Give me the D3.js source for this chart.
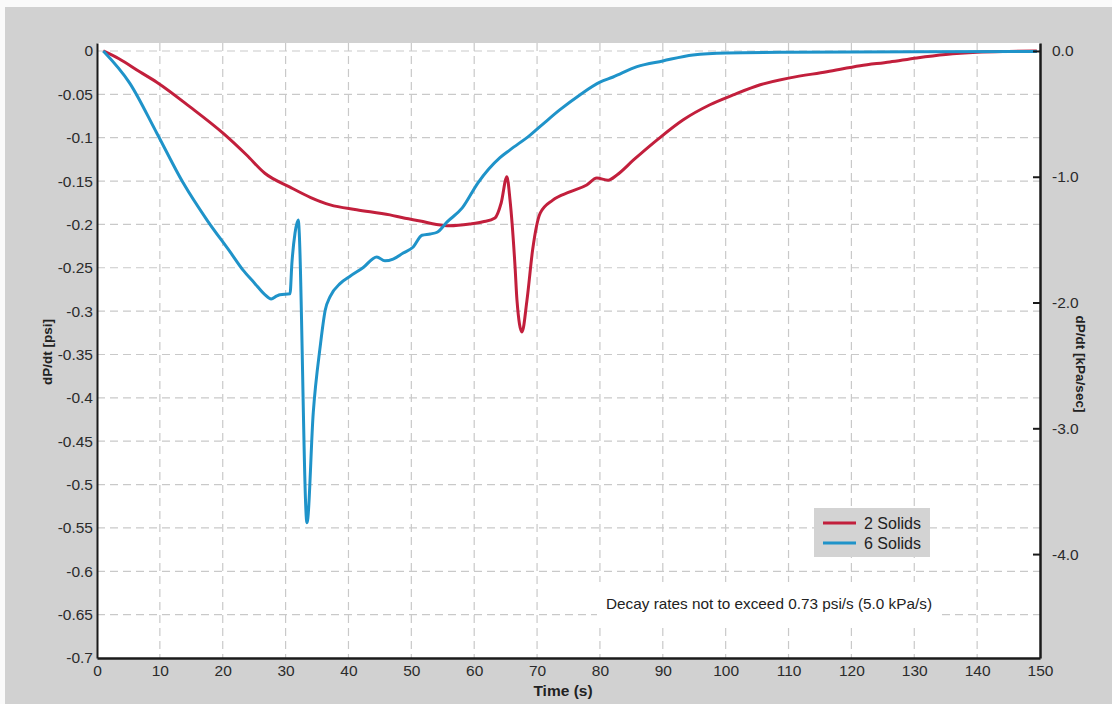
<!DOCTYPE html>
<html>
<head>
<meta charset="utf-8">
<script src="https://cdn.jsdelivr.net/npm/d3@7"></script>
<style>
  html, body { margin: 0; padding: 0; background: #fafafa; }
  svg { display: block; font-family: "Liberation Sans", Arial, sans-serif; }
</style>
</head>
<body>
<svg id="chart" width="1112" height="704"></svg>
<script>
"use strict";

// Time axis ticks (s) and left axis ticks (psi)
const timeTicks = [0, 10, 20, 30, 40, 50, 60, 70, 80, 90, 100, 110, 120, 130, 140, 150];
const psiTicks = [0, -0.05, -0.1, -0.15, -0.2, -0.25, -0.3, -0.35, -0.4, -0.45, -0.5, -0.55, -0.6, -0.65, -0.7];
const psiLabels = ["0", "-0.05", "-0.1", "-0.15", "-0.2", "-0.25", "-0.3", "-0.35", "-0.4", "-0.45", "-0.5", "-0.55", "-0.6", "-0.65", "-0.7"];
const kpaTicks = [0, -1, -2, -3, -4];
const kpaLabels = ["0.0", "-1.0", "-2.0", "-3.0", "-4.0"];

// 2 Solids: time (s) and dP/dt (psi)
const solids2Time = [1, 3.5, 6.8, 9.5, 14.8, 20, 23.8, 26.7, 30.7, 34, 37.1, 41.3, 46.6, 49, 51.4, 54, 56.1, 59.3, 61.4, 63.3, 64.3, 65.2, 65.7, 66.5, 66.8, 67.6, 68.4, 69.3, 70.5, 72.5, 75.2, 77.9, 79.5, 81.3, 82.7, 85.3, 89.1, 93.2, 97.5, 101.2, 105.5, 110.2, 116.1, 121.4, 126.1, 130.4, 135, 140, 145, 149.5];
const solids2Rate = [0, -0.009, -0.024, -0.036, -0.0645, -0.0945, -0.12, -0.141, -0.157, -0.169, -0.1775, -0.183, -0.189, -0.193, -0.196, -0.2, -0.2015, -0.1995, -0.197, -0.1925, -0.175, -0.145, -0.172, -0.249, -0.287, -0.324, -0.287, -0.229, -0.187, -0.172, -0.1625, -0.1545, -0.1465, -0.149, -0.143, -0.126, -0.1025, -0.0796, -0.062, -0.0507, -0.039, -0.031, -0.024, -0.017, -0.0127, -0.008, -0.004, -0.0015, -0.0005, 0];

// 6 Solids: time (s) and dP/dt (psi)
const solids6Time = [1, 5.2, 9.5, 13.7, 17.5, 21.2, 23.2, 25.1, 26.7, 27.7, 28.6, 29.1, 30.7, 31, 31.5, 32, 33.4, 34.4, 35.5, 36.3, 37.1, 38.7, 40.2, 42.3, 44.5, 45.8, 47.1, 48.7, 50.3, 51.7, 53, 54.1, 55.7, 58.1, 60.6, 64.1, 65.7, 68.9, 71.3, 73.6, 76.8, 80, 82.1, 85.9, 90, 94.8, 100.2, 110, 130, 149.5];
const solids6Rate = [0, -0.037, -0.0945, -0.152, -0.195, -0.232, -0.2525, -0.268, -0.281, -0.286, -0.2825, -0.281, -0.28, -0.245, -0.21, -0.195, -0.544, -0.417, -0.341, -0.299, -0.283, -0.268, -0.26, -0.25, -0.2375, -0.242, -0.24, -0.233, -0.226, -0.2125, -0.211, -0.209, -0.197, -0.181, -0.152, -0.123, -0.114, -0.097, -0.082, -0.068, -0.0507, -0.036, -0.03, -0.018, -0.0115, -0.0046, -0.0023, -0.0015, -0.001, -0.0005];

const seriesNames = ["2 Solids", "6 Solids"];
const seriesColors = ["#c21f3c", "#1f93c9"];

const PSI_TO_KPA = 6.894757;

const svg = d3.select("#chart");
const plot = { left: 97, right: 1040, top: 43, bottom: 658 };

const x = d3.scaleLinear().domain([0, 150]).range([plot.left, plot.right]);
const y = d3.scaleLinear().domain([-0.7, 0.0092]).range([plot.bottom, plot.top]);
const yKpa = d3.scaleLinear().domain(y.domain().map(v => v * PSI_TO_KPA)).range(y.range());

// grey page background and white plot area
svg.append("rect").attr("x", 5).attr("y", 7).attr("width", 1107).attr("height", 697).attr("fill", "#d1d1d1");
svg.append("rect").attr("x", plot.left).attr("y", plot.top)
  .attr("width", plot.right - plot.left).attr("height", plot.bottom - plot.top).attr("fill", "#ffffff");

// dashed grid
const grid = svg.append("g").attr("stroke", "#c9c9c9").attr("stroke-width", 1.2).attr("stroke-dasharray", "8,5");
grid.selectAll(".gx").data(timeTicks.filter(t => t > 0 && t < 150)).join("line")
  .attr("x1", d => x(d)).attr("x2", d => x(d)).attr("y1", plot.top).attr("y2", plot.bottom);
grid.selectAll(".gy").data(psiTicks.filter(v => v > -0.7)).join("line")
  .attr("y1", d => y(d)).attr("y2", d => y(d)).attr("x1", plot.left).attr("x2", plot.right);

// annotation box sits over the grid
svg.append("rect").attr("x", 597).attr("y", 582).attr("width", 343).attr("height", 43).attr("fill", "#ffffff");
svg.append("text").attr("x", 606).attr("y", 609).attr("font-size", 15).attr("fill", "#222")
  .attr("textLength", 326).attr("lengthAdjust", "spacingAndGlyphs")
  .text("Decay rates not to exceed 0.73 psi/s (5.0 kPa/s)");

// series lines
const line = d3.line().x(d => x(d[0])).y(d => y(d[1])).curve(d3.curveMonotoneX);
const series = [
  d3.zip(solids2Time, solids2Rate),
  d3.zip(solids6Time, solids6Rate)
];
svg.append("g").selectAll("path").data(series).join("path")
  .attr("d", line)
  .attr("fill", "none")
  .attr("stroke", (d, i) => seriesColors[i])
  .attr("stroke-width", 3)
  .attr("stroke-linejoin", "round");

// axes
const xAxis = d3.axisBottom(x).tickValues(timeTicks).tickSize(0).tickPadding(7);
const gx = svg.append("g").attr("transform", `translate(0,${plot.bottom})`).call(xAxis);
gx.select(".domain").attr("stroke", "#1a1a1a").attr("stroke-width", 2.5);

const yAxis = d3.axisLeft(y).tickValues(psiTicks).tickSize(0).tickPadding(4)
  .tickFormat((d, i) => psiLabels[i]);
const gy = svg.append("g").attr("transform", `translate(${plot.left},0)`).call(yAxis);
gy.select(".domain").attr("stroke", "#1a1a1a").attr("stroke-width", 2);

const yRight = d3.axisRight(yKpa).tickValues(kpaTicks).tickSizeInner(-7).tickSizeOuter(0).tickPadding(12)
  .tickFormat((d, i) => kpaLabels[i]);
const gr = svg.append("g").attr("transform", `translate(${plot.right},0)`).call(yRight);
gr.select(".domain").attr("stroke", "#1a1a1a").attr("stroke-width", 2.5);
gr.selectAll(".tick line").attr("stroke", "#1a1a1a").attr("stroke-width", 2);

svg.selectAll(".tick text").attr("font-size", 15.5).attr("fill", "#2b2b2b")
  .attr("font-family", "Liberation Sans, Arial, sans-serif");

// axis titles
svg.append("text").attr("x", 563).attr("y", 696).attr("text-anchor", "middle")
  .attr("font-size", 15.5).attr("font-weight", "bold").attr("fill", "#222").text("Time (s)");
svg.append("text").attr("transform", "translate(52,352) rotate(-90)").attr("text-anchor", "middle")
  .attr("font-size", 13.5).attr("font-weight", "bold").attr("fill", "#222").text("dP/dt [psi]");
svg.append("text").attr("transform", "translate(1076,364) rotate(90)").attr("text-anchor", "middle")
  .attr("font-size", 13.5).attr("font-weight", "bold").attr("fill", "#222").text("dP/dt [kPa/sec]");

// legend
const legend = svg.append("g").attr("transform", "translate(814,508)");
legend.append("rect").attr("width", 116).attr("height", 49).attr("fill", "#d3d3d3");
const items = legend.selectAll("g").data(seriesNames).join("g")
  .attr("transform", (d, i) => `translate(0,${15 + i * 20})`);
items.append("line").attr("x1", 9).attr("x2", 42).attr("stroke-width", 3)
  .attr("stroke", (d, i) => seriesColors[i]);
items.append("text").attr("x", 50).attr("dy", "0.35em").attr("font-size", 16).attr("fill", "#222").text(d => d);
</script>
</body>
</html>
